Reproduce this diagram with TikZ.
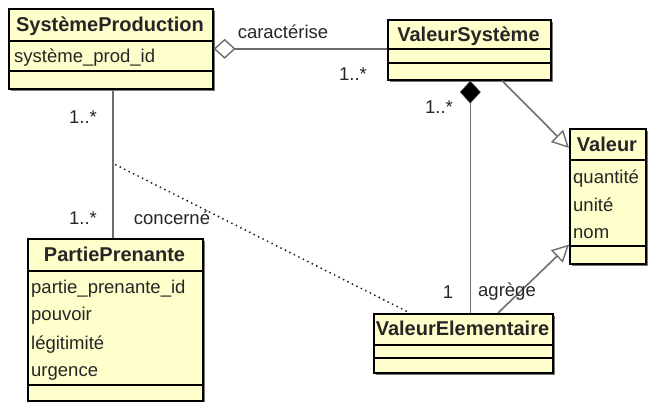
\documentclass[tikz,border=0pt]{standalone}
\usepackage{fontspec}
\setmainfont{Liberation Sans}
\usetikzlibrary{arrows.meta,calc}
\definecolor{classfill}{RGB}{255,255,204}
\definecolor{linegray}{RGB}{110,110,110}
\definecolor{shadowgray}{RGB}{120,120,120}
\tikzset{
  classbox/.style={draw=black, line width=1.6pt, fill=classfill, inner sep=0pt, anchor=north west},
  shadowbox/.style={fill=shadowgray, draw=none, inner sep=0pt, anchor=north west},
  sepline/.style={draw=black, line width=1.4pt},
  hdr/.style={font=\fontsize{20}{24}\selectfont\bfseries, text=black!85, anchor=base, inner sep=0pt},
  attr/.style={font=\fontsize{18.5}{22}\selectfont, text=black!85, anchor=base west, inner sep=0pt},
  lbl/.style={font=\fontsize{18.5}{22}\selectfont, text=black!85, anchor=center, inner sep=0pt},
  conn/.style={draw=linegray, line width=1.6pt},
  dotconn/.style={draw=black!85, line width=2.1pt, dash pattern=on 0pt off 5pt, line cap=round},
}
\begin{document}
\begin{tikzpicture}[x=1pt,y=-1pt]
\useasboundingbox (0,0) rectangle (649,402);
% shadows
\node[shadowbox, minimum width=204pt, minimum height=80pt] (sps) at (11,11) {};
\node[shadowbox, minimum width=163pt, minimum height=60pt] (vss) at (390,22) {};
\node[shadowbox, minimum width=76pt, minimum height=135pt] (vals) at (572,131) {};
\node[shadowbox, minimum width=175pt, minimum height=162pt] (pps) at (30,241) {};
\node[shadowbox, minimum width=179pt, minimum height=59pt] (ves) at (376,316) {};
% class boxes
\node[classbox, minimum width=204pt, minimum height=80pt] (sp) at (8,8) {};
\node[classbox, minimum width=163pt, minimum height=60pt] (vs) at (387,19) {};
\node[classbox, minimum width=76pt, minimum height=135pt] (val) at (569,128) {};
\node[classbox, minimum width=175pt, minimum height=162pt] (pp) at (27,238) {};
\node[classbox, minimum width=179pt, minimum height=59pt] (ve) at (373,313) {};
% compartments
\draw[sepline] (8,41) -- (212,41);
\draw[sepline] (8,71) -- (212,71);
\draw[sepline] (387,49) -- (550,49);
\draw[sepline] (387,63) -- (550,63);
\draw[sepline] (569,160) -- (645,160);
\draw[sepline] (569,246) -- (645,246);
\draw[sepline] (27,271) -- (202,271);
\draw[sepline] (27,385) -- (202,385);
\draw[sepline] (373,345) -- (552,345);
\draw[sepline] (373,358) -- (552,358);
% texts
\node[hdr] (sph) at (110,31.5) {SystèmeProduction};
\node[attr] (spa1) at (14,62) {système\_prod\_id};
\node[hdr] (vsh) at (468.5,41) {ValeurSystème};
\node[hdr] (valh) at (607,151) {Valeur};
\node[attr] (vala1) at (573,183.5) {quantité};
\node[attr] (vala2) at (573,211) {unité};
\node[attr] (vala3) at (573,238.5) {nom};
\node[hdr] (pph) at (114.5,261.5) {PartiePrenante};
\node[attr] (ppa1) at (31,293) {partie\_prenante\_id};
\node[attr] (ppa2) at (31,320) {pouvoir};
\node[attr] (ppa3) at (31,349) {légitimité};
\node[attr] (ppa4) at (31,376) {urgence};
\node[hdr] (veh) at (462.5,335.5) {ValeurElementaire};
% connectors
\draw[conn, {Diamond[open, fill=white, length=22pt, width=20pt, line width=1.4pt]}-] (sp.east) -- (sp.east -| vs.west);
\draw[conn] ($(sp.south)+(2,0)$) coordinate (a1) -- (a1 |- pp.north);
\coordinate (mid) at ($(a1)!0.5!(a1 |- pp.north)$);
\draw[dotconn] ($(mid)+(3,1)$) -- ($(ve.north west)+(37,0)$);
\draw[conn, {Diamond[fill=black, length=23pt, width=21pt, line width=0.5pt]}-] ($(vs.south)+(1,0)$) coordinate (c1) -- (c1 |- ve.north);
\draw[conn, -{Triangle[open, fill=white, length=17pt, width=17pt, line width=1.4pt]}] ($(vs.south west)+(115,0)$) -- ($(val.north west)+(0,20)$);
\draw[conn, -{Triangle[open, fill=white, length=17pt, width=17pt, line width=1.4pt]}] ($(ve.north west)+(125,0)$) -- ($(val.south west)+(0,-20)$);
% labels
\node[lbl] (l1) at (283,32) {caractérise};
\node[lbl] (l2) at (353,74) {1..*};
\node[lbl] (l3) at (83,117) {1..*};
\node[lbl] (l4) at (83,218) {1..*};
\node[lbl] (l5) at (172,218) {concerné};
\node[lbl] (l6) at (439,107) {1..*};
\node[lbl] (l7) at (448,292) {1};
\node[lbl] (l8) at (507,292) {agrège};
\end{tikzpicture}
\end{document}
